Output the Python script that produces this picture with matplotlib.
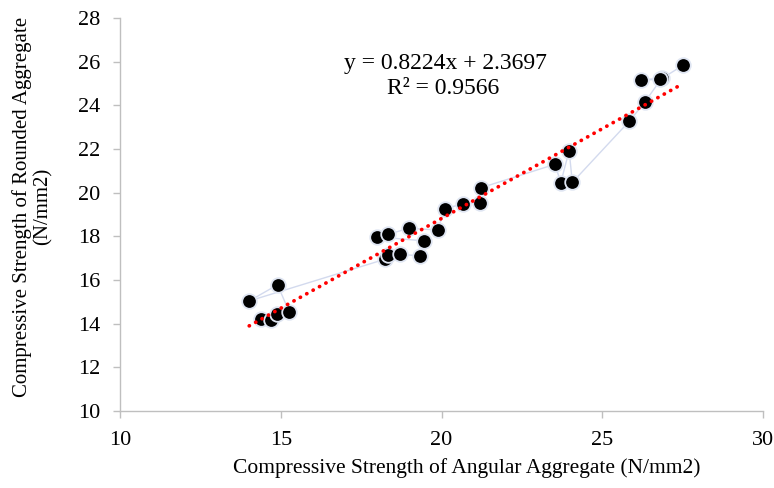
import matplotlib
matplotlib.use("Agg")
import matplotlib.pyplot as plt
import numpy as np

# Data (in the order the connecting line follows)
angular = [14.39, 14.70, 14.87, 15.27, 14.90, 14.02, 18.24, 18.35, 18.71, 19.34,
           19.47, 17.98, 18.34, 18.98, 19.88, 20.11, 20.68, 21.21, 21.24, 23.53,
           23.71, 23.97, 24.07, 25.84, 26.32, 26.85, 26.19, 26.81, 27.51]
rounded = [14.20, 14.17, 14.43, 14.52, 15.78, 15.04, 16.95, 17.14, 17.17, 17.11,
           17.79, 17.98, 18.09, 18.37, 18.29, 19.27, 19.49, 19.54, 20.23, 21.30,
           20.46, 21.92, 20.47, 23.27, 24.14, 25.24, 25.16, 25.19, 25.83]
slope = 0.8224
intercept = 2.3697
r2 = 0.9566

x_ticks = [10, 15, 20, 25, 30]
y_ticks = [10, 12, 14, 16, 18, 20, 22, 24, 26, 28]

plt.rcParams['font.family'] = ['Liberation Serif', 'DejaVu Serif']

fig = plt.figure(figsize=(7.74, 4.88), dpi=100)
ax = fig.add_axes([120/774, 1-411/488, (763-120)/774, (411-18)/488])

ax.plot(angular, rounded, color='#d3daee', lw=1.0, zorder=1)
ax.plot(angular, rounded, linestyle='none', marker='o', markersize=10.5,
        markerfacecolor='black', markeredgecolor='#dfe5f2', markeredgewidth=1.3, zorder=3)

xa = np.array(angular)
xs = np.array([xa.min(), xa.max()])
ax.plot(xs, slope*xs + intercept, color='#ff0000', lw=2.7, linestyle=(0, (0.05, 1.9)),
        dash_capstyle='round', zorder=4)

fig.text(445/774, 1-64/488, f"y = {slope}x + {intercept}",
         ha='center', va='center', fontsize=17)
fig.text(443/774, 1-89/488, f"R² = {r2}",
         ha='center', va='center', fontsize=17)

ax.set_xlim(10, 30)
ax.set_ylim(10, 28)
ax.set_xticks(x_ticks)
ax.set_yticks(y_ticks)
ax.tick_params(axis='both', labelsize=16, color='#bfbfbf', length=5, width=1, direction='out')
ax.tick_params(axis='x', pad=9.5)
ax.tick_params(axis='y', pad=9.5)
for s in ['top', 'right']:
    ax.spines[s].set_visible(False)
for s in ['left', 'bottom']:
    ax.spines[s].set_color('#bfbfbf')
    ax.spines[s].set_linewidth(1)

ax.set_xlabel("Compressive Strength of Angular Aggregate (N/mm2)", fontsize=15.5)
ax.xaxis.set_label_coords(0.54, -0.12)
ax.set_ylabel("Compressive Strength of Rounded Aggregate\n(N/mm2)", fontsize=15,
              linespacing=1.1)
ax.yaxis.set_label_coords(-0.105, 0.52)

fig.savefig("out.png", dpi=100)
